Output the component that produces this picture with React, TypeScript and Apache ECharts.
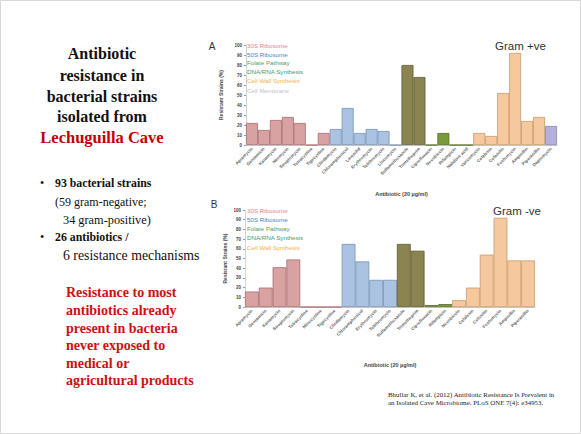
import React, { useEffect, useRef } from "react";
import * as echarts from "echarts";

// ---- data ----
const mechanisms = [
  "30S Ribosome",
  "50S Ribosome",
  "Folate Pathway",
  "DNA/RNA Synthesis",
  "Cell Wall Synthesis",
  "Cell Membrane",
];

const catsA = [
  "Apramycin", "Gentamicin", "Kanamycin", "Neomycin", "Streptomycin", "Tetracycline",
  "Tigecycline", "Clindamycin", "Chloramphenicol", "Linezolid", "Erythromycin", "Telithromycin",
  "Lincomycin", "Sulfamethoxazole", "Trimethoprim", "Ciprofloxacin", "Novobiocin", "Rifampicin",
  "Nalidixic acid", "Vancomycin", "Cefalexin", "Cefazolin", "Fosfomycin", "Ampicillin",
  "Piperacillin", "Daptomycin",
];
const valsA = [22, 15, 25, 28, 22, 0, 12, 16, 37, 12, 16, 14, 0, 80, 68, 0, 12, 0, 0, 12, 9, 52, 92, 24, 28, 19];
const mechA = [0, 0, 0, 0, 0, 0, 0, 1, 1, 1, 1, 1, 1, 2, 2, 3, 3, 3, 3, 4, 4, 4, 4, 4, 4, 5];

const catsB = [
  "Apramycin", "Gentamicin", "Kanamycin", "Streptomycin", "Tetracycline", "Minocycline",
  "Tigecycline", "Clindamycin", "Chloramphenicol", "Erythromycin", "Telithromycin",
  "Sulfamethoxazole", "Trimethoprim", "Ciprofloxacin", "Rifampicin", "Novobiocin",
  "Cefalexin", "Cefoxitin", "Fosfomycin", "Ampicillin", "Piperacillin",
];
const valsB = [16, 20, 41, 49, 0, 0, 0, 65, 47, 28, 28, 65, 58, 2, 3, 7, 20, 54, 92, 48, 48];
const mechB = [0, 0, 0, 0, 0, 0, 0, 1, 1, 1, 1, 2, 2, 3, 3, 4, 4, 4, 4, 4, 4];

const titleLines = ["Antibiotic", "resistance in", "bacterial strains", "isolated from"];
const titleRed = "Lechuguilla Cave";
const redLines = [
  "Resistance to most",
  "antibiotics already",
  "present in bacteria",
  "never exposed to",
  "medical or",
  "agricultural products",
];

// ---- styles ----
const fills = ["#d8a2a3", "#aac3e3", "#8b8450", "#7c9a3c", "#f5c99d", "#b5afdb"];
const borders = ["#a86c6e", "#7891b3", "#5c5933", "#566d26", "#c9996b", "#8a84b0"];
const legendColors = ["#e58585", "#4f7fc4", "#5e9c4c", "#3d9a72", "#f2b245", "#bfbfcd"];
const serif = "'Liberation Serif', 'Times New Roman', serif";
const sans = "'Liberation Sans', Arial, sans-serif";

function barData(vals: number[], mech: number[]) {
  return vals.map((v, i) => ({
    value: v,
    itemStyle: { color: fills[mech[i]], borderColor: borders[mech[i]], borderWidth: 0.8 },
  }));
}

function xAxisFor(cats: string[], gridIndex: number) {
  return {
    type: "category",
    gridIndex,
    data: cats,
    axisLine: { lineStyle: { color: "#c8c8c8", width: 1 } },
    axisTick: { show: false },
    axisLabel: {
      rotate: 45,
      interval: 0,
      fontSize: 4.4,
      color: "#666",
      fontWeight: "bold",
      fontFamily: sans,
      margin: 3,
    },
    name: "Antibiotic (20 µg/ml)",
    nameLocation: "middle",
    nameGap: gridIndex === 0 ? 46 : 55,
    nameTextStyle: { fontSize: 5.5, fontWeight: "bold", color: "#444", fontFamily: sans },
  };
}

function yAxisFor(gridIndex: number) {
  return {
    type: "value",
    gridIndex,
    min: 0,
    max: 100,
    interval: 10,
    axisLine: { show: true, lineStyle: { color: "#c8c8c8", width: 0.8 } },
    axisTick: { show: true, length: 2, lineStyle: { color: "#999" } },
    splitLine: { show: false },
    axisLabel: { fontSize: 4.5, fontWeight: "bold", color: "#444", margin: 4, fontFamily: sans },
    name: "Resistant Strains (%)",
    nameLocation: "middle",
    nameGap: 18,
    nameRotate: 90,
    nameTextStyle: { fontSize: 5, fontWeight: "bold", color: "#444", fontFamily: sans },
  };
}

export default function App() {
  const ref = useRef<HTMLDivElement>(null);
  useEffect(() => {
    if (!ref.current) return;
    const chart = echarts.init(ref.current, undefined, { renderer: "svg" });

    const graphics: any[] = [];
    graphics.push({
      type: "rect",
      shape: { x: 0.5, y: 0.5, width: 580, height: 433 },
      style: { fill: "none", stroke: "#d8d8d8", lineWidth: 1 },
      silent: true,
    });
    const titleY = [53, 75, 96, 116];
    titleLines.forEach((t, i) =>
      graphics.push({
        type: "text",
        style: {
          text: t, x: 102, y: titleY[i], fill: "#111", fontSize: 16, fontWeight: "bold",
          fontFamily: serif, textAlign: "center", textVerticalAlign: "middle",
        },
      })
    );
    graphics.push({
      type: "text",
      style: {
        text: titleRed, x: 102, y: 137, fill: "#c00000", fontSize: 16.5, fontWeight: "bold",
        fontFamily: serif, textAlign: "center", textVerticalAlign: "middle",
      },
    });
    const line = (text: string, x: number, y: number, bold: boolean, size: number) =>
      graphics.push({
        type: "text",
        style: {
          text, x, y, fill: "#111", fontSize: size, fontWeight: bold ? "bold" : "normal",
          fontFamily: serif, textAlign: "left", textVerticalAlign: "middle",
        },
      });
    line("•", 40, 183, false, 12);
    line("93 bacterial strains", 55, 183, true, 11.8);
    line("(59 gram-negative;", 55, 202, false, 12);
    line("34 gram-positive)", 63, 220, false, 12.3);
    line("•", 40, 237, false, 12);
    line("26 antibiotics /", 55, 237, true, 11.8);
    line("6 resistance mechanisms", 63, 255, false, 13.8);
    const redY = [292, 310, 328, 345, 363, 380];
    redLines.forEach((t, i) =>
      graphics.push({
        type: "text",
        style: {
          text: t, x: 66, y: redY[i], fill: "#cc1111", fontSize: 14, fontWeight: "bold",
          fontFamily: serif, textAlign: "left", textVerticalAlign: "middle",
        },
      })
    );
    graphics.push({
      type: "text",
      style: {
        text: "Bhullar K, et al. (2012) Antibiotic Resistance Is Prevalent in\nan Isolated Cave Microbiome. PLoS ONE 7(4): e34953.",
        x: 388, y: 391, fill: "#222", fontSize: 6.9, fontFamily: serif, lineHeight: 7.5,
        textAlign: "left", textVerticalAlign: "top",
      },
    });
    // panel letters and gram labels
    graphics.push({
      type: "text",
      style: { text: "A", x: 212, y: 46, fill: "#333", fontSize: 10, fontFamily: sans, textAlign: "center", textVerticalAlign: "middle" },
    });
    graphics.push({
      type: "text",
      style: { text: "B", x: 214, y: 204, fill: "#333", fontSize: 10, fontFamily: sans, textAlign: "center", textVerticalAlign: "middle" },
    });
    graphics.push({
      type: "text",
      style: { text: "Gram +ve", x: 495, y: 46, fill: "#333", fontSize: 11.5, fontFamily: sans, textAlign: "left", textVerticalAlign: "middle" },
    });
    graphics.push({
      type: "text",
      style: { text: "Gram -ve", x: 493, y: 211, fill: "#333", fontSize: 11.5, fontFamily: sans, textAlign: "left", textVerticalAlign: "middle" },
    });
    // legends
    const legA = [45, 54, 62.5, 71.5, 80.5, 90];
    mechanisms.forEach((m, i) =>
      graphics.push({
        type: "text",
        style: { text: m, x: 247, y: legA[i], fill: legendColors[i], fontSize: 6.2, fontFamily: sans, textAlign: "left", textVerticalAlign: "middle" },
      })
    );
    const legB = [210, 219, 228, 237.5, 247];
    mechanisms.slice(0, 5).forEach((m, i) =>
      graphics.push({
        type: "text",
        style: { text: m, x: 247, y: legB[i], fill: legendColors[i], fontSize: 6.2, fontFamily: sans, textAlign: "left", textVerticalAlign: "middle" },
      })
    );

    chart.setOption({
      animation: false,
      backgroundColor: "#ffffff",
      grid: [
        { left: 246, top: 45, width: 311, height: 100 },
        { left: 245, top: 210, width: 290, height: 97 },
      ],
      xAxis: [xAxisFor(catsA, 0), xAxisFor(catsB, 1)],
      yAxis: [yAxisFor(0), yAxisFor(1)],
      series: [
        {
          type: "bar", xAxisIndex: 0, yAxisIndex: 0, barCategoryGap: "0%",
          data: barData(valsA, mechA),
        },
        {
          type: "bar", xAxisIndex: 1, yAxisIndex: 1, barCategoryGap: "0%",
          data: barData(valsB, mechB),
        },
      ],
      graphic: graphics,
    });
    return () => chart.dispose();
  }, []);
  return (
    <div
      ref={ref}
      style={{ position: "fixed", left: 0, top: 0, width: 581, height: 434, background: "#fff" }}
    />
  );
}
